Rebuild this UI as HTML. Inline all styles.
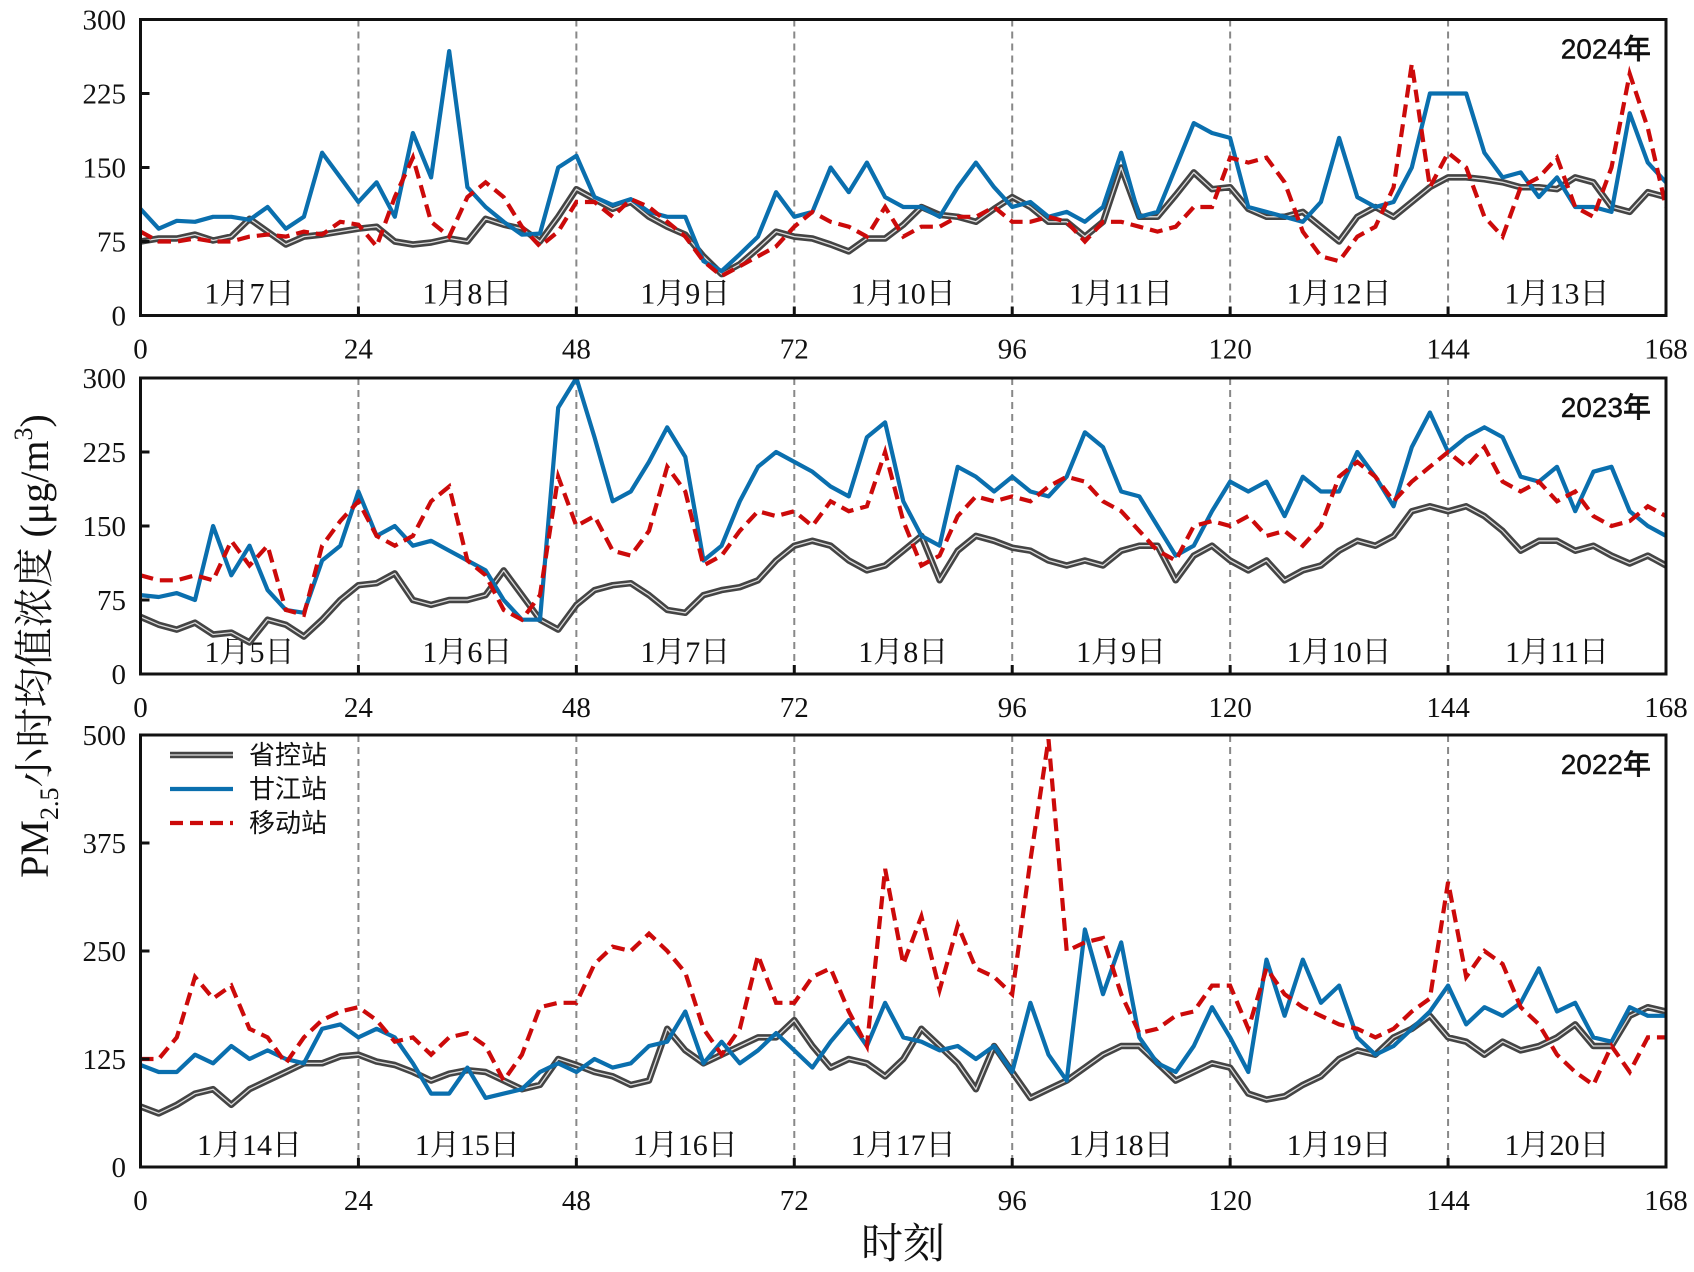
<!DOCTYPE html>
<html><head><meta charset="utf-8"><style>
html,body{margin:0;padding:0;background:#fff;}
svg{display:block;}
</style></head><body>
<svg id="chart" width="1694" height="1272" viewBox="0 0 1694 1272" xmlns="http://www.w3.org/2000/svg"></svg>
<script>
const xTicks = [0,24,48,72,96,120,144,168];
const hours = [];
for (let i = 0; i <= 84; i++) hours.push(i * 2);

const yTicks2024 = [0,75,150,225,300];
const yTicks2023 = [0,75,150,225,300];
const yTicks2022 = [0,125,250,375,500];
const days2024 = ["1月7日","1月8日","1月9日","1月10日","1月11日","1月12日","1月13日"];
const days2023 = ["1月5日","1月6日","1月7日","1月8日","1月9日","1月10日","1月11日"];
const days2022 = ["1月14日","1月15日","1月16日","1月17日","1月18日","1月19日","1月20日"];

const gray2024 = [75,78,78,82,76,80,98,85,72,80,82,85,88,90,75,72,74,78,75,98,92,88,75,100,128,118,108,115,100,90,82,60,42,52,68,85,80,78,72,65,78,78,92,110,102,100,95,108,120,110,95,95,80,95,150,100,100,122,145,128,130,108,100,100,105,90,75,100,110,100,115,130,140,140,138,135,130,130,128,140,135,110,105,125,120];
const blue2024 = [108,88,96,95,100,100,97,110,88,100,165,140,115,135,100,185,140,268,130,110,95,82,83,150,162,120,112,118,105,100,100,55,45,62,80,125,100,105,150,125,155,120,110,110,100,130,155,130,110,115,100,105,95,110,165,100,105,150,195,185,180,110,105,100,95,115,180,120,110,115,150,225,225,225,165,140,145,120,140,110,110,105,205,155,135];
const red2024 = [85,75,75,78,75,75,80,82,80,85,82,95,92,70,120,160,95,80,120,135,120,90,70,85,115,115,100,118,110,95,80,55,40,50,60,70,90,105,95,90,80,110,80,90,90,100,100,110,95,95,100,95,75,95,95,90,85,90,110,110,160,155,160,135,85,60,55,80,90,130,255,130,165,150,100,80,130,140,160,110,100,150,245,190,110];

const gray2023 = [58,50,45,52,40,42,32,55,50,38,55,75,90,92,102,75,70,75,75,80,105,80,55,45,70,85,90,92,80,65,62,80,85,88,95,115,130,135,130,115,105,110,125,140,95,125,140,135,128,125,115,110,115,110,125,130,130,95,120,130,115,105,115,95,105,110,125,135,130,140,165,170,165,170,160,145,125,135,135,125,130,120,112,120,110];
const blue2023 = [80,78,82,75,150,100,130,85,65,62,115,130,185,140,150,130,135,125,115,105,75,55,55,270,300,240,175,185,215,250,220,115,130,175,210,225,215,205,190,180,240,255,175,140,130,210,200,185,200,185,180,200,245,230,185,180,150,120,130,165,195,185,195,160,200,185,185,225,200,170,230,265,225,240,250,240,200,195,210,165,205,210,165,150,140];
const red2023 = [100,95,95,100,95,135,110,130,65,60,130,155,175,140,130,140,175,190,115,100,65,55,80,200,150,160,125,120,145,210,185,110,120,145,165,160,165,150,175,165,170,225,155,110,120,160,180,175,180,175,190,200,195,175,165,145,125,115,150,155,150,160,140,145,130,150,200,215,200,175,195,210,225,210,230,195,185,195,175,185,160,150,155,170,160];

const gray2022 = [70,62,72,85,90,72,90,100,110,120,120,128,130,122,118,110,100,108,112,110,100,90,95,125,118,110,105,95,100,160,135,120,130,140,150,150,170,140,115,125,120,105,125,160,140,120,90,140,110,80,90,100,115,130,140,140,120,100,110,120,115,85,78,82,95,105,125,135,130,150,160,175,150,145,130,145,135,140,150,165,140,140,175,185,180];
const blue2022 = [118,110,110,130,120,140,125,135,125,120,160,165,150,160,150,120,85,85,115,80,85,90,110,120,110,125,115,120,140,145,180,120,145,120,135,155,135,115,145,170,140,190,150,145,135,140,125,140,110,190,130,100,275,200,260,150,120,110,140,185,150,110,240,175,240,190,210,150,130,140,160,180,210,165,185,175,190,230,180,190,150,145,185,175,175];
const red2022 = [125,125,150,220,195,210,160,150,120,150,170,180,185,170,145,150,130,150,155,140,100,130,185,190,190,235,255,250,270,250,225,160,130,160,245,190,190,220,230,180,140,345,235,290,205,280,230,220,200,355,495,250,260,265,200,155,160,175,180,210,210,160,230,200,185,175,165,160,150,160,180,195,330,220,250,235,185,165,130,110,95,140,110,150,150];

const svg = document.getElementById('chart');
const NS = 'http://www.w3.org/2000/svg';
function mk(tag, attrs, parent) {
  const e = document.createElementNS(NS, tag);
  for (const k in attrs) e.setAttribute(k, attrs[k]);
  (parent || svg).appendChild(e);
  return e;
}
const X0 = 140.5, X1 = 1666;
function xScale(t) { return X0 + (X1 - X0) * t / 168; }

const panels = [
  {name:'2024', top:19.5, bottom:315.5, yMax:300, yTicks:yTicks2024, days:days2024, gray:gray2024, blue:blue2024, red:red2024, year:'2024年'},
  {name:'2023', top:378, bottom:674, yMax:300, yTicks:yTicks2023, days:days2023, gray:gray2023, blue:blue2023, red:red2023, year:'2023年'},
  {name:'2022', top:735, bottom:1167, yMax:500, yTicks:yTicks2022, days:days2022, gray:gray2022, blue:blue2022, red:red2022, year:'2022年', legend:true}
];

const serif = '"Liberation Serif","Noto Serif CJK SC",serif';
const sans = '"Liberation Sans","Noto Sans CJK SC",sans-serif';

panels.forEach(p => {
  const g = mk('g', {});
  
  
  const yS = v => p.bottom - (p.bottom - p.top) * v / p.yMax;
  xTicks.slice(1, -1).forEach(t => {
    const l = mk('line', {x1:xScale(t), x2:xScale(t), y1:p.top, y2:p.bottom, stroke:'#888', 'stroke-width':2, 'stroke-dasharray':'7,5'}, g);
    
    
  });
  p.days.forEach((d, i) => {
    const tx = mk('text', {x:xScale(i*24+12), y:p.bottom - 12, 'font-family':serif, 'font-size':30, 'text-anchor':'middle', fill:'#111'}, g);
    tx.textContent = d;
    
    
  });
  const clip = mk('clipPath', {id:'clip' + p.name}, g);
  mk('rect', {x:X0, y:p.top, width:X1-X0, height:p.bottom-p.top}, clip);
  const pts = arr => arr.map((v, i) => xScale(hours[i]).toFixed(1) + ',' + yS(v).toFixed(1)).join(' ');
  const sg = mk('g', {'clip-path':'url(#clip' + p.name + ')'}, g);
  const g1 = mk('polyline', {points:pts(p.gray), fill:'none', stroke:'#444', 'stroke-width':6.5, 'stroke-linejoin':'round'}, sg);
  
  
  mk('polyline', {points:pts(p.gray), fill:'none', stroke:'#ddd', 'stroke-width':1.3, 'stroke-linejoin':'round'}, sg);
  const b = mk('polyline', {points:pts(p.blue), fill:'none', stroke:'#0a6fae', 'stroke-width':4.2, 'stroke-linejoin':'round'}, sg);
  
  
  const r = mk('polyline', {points:pts(p.red), fill:'none', stroke:'#cc0a0a', 'stroke-width':4.2, 'stroke-dasharray':'13,7'}, sg);
  
  
  const fr = mk('rect', {x:X0, y:p.top, width:X1-X0, height:p.bottom-p.top, fill:'none', stroke:'#111', 'stroke-width':3}, g);
  
  
  p.yTicks.forEach(v => {
    mk('line', {x1:X0, x2:X0+9, y1:yS(v), y2:yS(v), stroke:'#111', 'stroke-width':3}, g);
    const tl = mk('text', {x:126, y:yS(v)+10, 'font-family':serif, 'font-size':29, 'text-anchor':'end', fill:'#111'}, g);
    tl.textContent = v;
    
    
  });
  xTicks.forEach(t => {
    mk('line', {x1:xScale(t), x2:xScale(t), y1:p.bottom, y2:p.bottom-9, stroke:'#111', 'stroke-width':3}, g);
    const tl = mk('text', {x:xScale(t), y:p.bottom+43, 'font-family':serif, 'font-size':29, 'text-anchor':'middle', fill:'#111'}, g);
    tl.textContent = t;
    
    
  });
  const yr = mk('text', {x:1651, y:p.top+39, 'font-family':sans, 'font-size':28, 'font-weight':'500', 'text-anchor':'end', fill:'#111', stroke:'#111', 'stroke-width':0.4}, g);
  yr.textContent = p.year;
  
  

  if (p.legend) {
    const lg = mk('g', {}, g);
    
    
    const items = [['省控站','gray'],['甘江站','blue'],['移动站','red']];
    items.forEach((it, i) => {
      const y = 755 + i * 34;
      if (it[1] === 'gray') {
        mk('line', {x1:170, x2:233, y1:y, y2:y, stroke:'#444', 'stroke-width':6.5}, lg);
        mk('line', {x1:170, x2:233, y1:y, y2:y, stroke:'#ddd', 'stroke-width':1.3}, lg);
      } else if (it[1] === 'blue') {
        mk('line', {x1:170, x2:233, y1:y, y2:y, stroke:'#0a6fae', 'stroke-width':4.2}, lg);
      } else {
        mk('line', {x1:170, x2:233, y1:y, y2:y, stroke:'#cc0a0a', 'stroke-width':4.2, 'stroke-dasharray':'13,7'}, lg);
      }
      const t = mk('text', {x:249, y:y+9, 'font-family':sans, 'font-size':26, fill:'#111'}, lg);
      t.textContent = it[0];
      
      
    });
  }
});

const xt = mk('text', {x:903, y:1258, 'font-family':serif, 'font-size':42, 'text-anchor':'middle', fill:'#111'});
xt.textContent = '时刻';



const yt = mk('text', {x:0, y:0, 'font-family':serif, 'font-size':40, 'text-anchor':'middle', fill:'#111', transform:'translate(48,646) rotate(-90)'});


const parts = [['PM',0,40],['2.5',10,26],['小时均值浓度 (μg/m',-10,40],['3',-16,26],[')',16,40]];
parts.forEach(pt => {
  const ts = mk('tspan', {dy:pt[1], 'font-size':pt[2]}, yt);
  ts.textContent = pt[0];
});
</script>
</body></html>
